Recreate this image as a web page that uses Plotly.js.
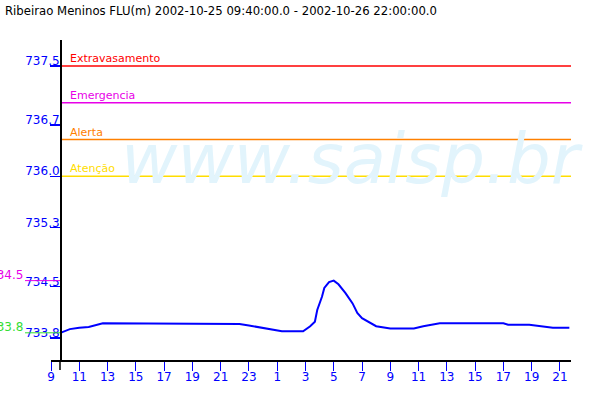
<!DOCTYPE html>
<html>
<head>
<meta charset="utf-8">
<script src="https://cdn.plot.ly/plotly-3.0.1.min.js"></script>
<style>html,body{margin:0;padding:0;background:#fff;}#chart{width:600px;height:400px;}</style>
</head>
<body>
<div id="chart"></div>
<script>
// ---- data ----
const chartTitle = "Ribeirao Meninos FLU(m) 2002-10-25 09:40:00.0 - 2002-10-26 22:00:00.0";
const times = [
  "2002-10-25 09:40","2002-10-25 10:00","2002-10-25 10:20","2002-10-25 11:00","2002-10-25 11:40",
  "2002-10-25 12:40","2002-10-25 14:40","2002-10-25 17:00","2002-10-25 17:40","2002-10-25 20:40",
  "2002-10-25 21:20","2002-10-25 22:20","2002-10-25 23:00","2002-10-26 00:00","2002-10-26 00:40",
  "2002-10-26 01:20","2002-10-26 02:50","2002-10-26 03:10","2002-10-26 03:20","2002-10-26 03:40",
  "2002-10-26 03:50","2002-10-26 04:10","2002-10-26 04:20","2002-10-26 04:40","2002-10-26 05:00",
  "2002-10-26 05:20","2002-10-26 05:50","2002-10-26 06:20","2002-10-26 06:40","2002-10-26 07:00",
  "2002-10-26 07:30","2002-10-26 08:00","2002-10-26 09:00","2002-10-26 10:40","2002-10-26 11:20",
  "2002-10-26 11:50","2002-10-26 12:30","2002-10-26 17:00","2002-10-26 17:20","2002-10-26 18:50",
  "2002-10-26 19:50","2002-10-26 20:30","2002-10-26 21:40"
];
const levels = [
  733.87,733.89,733.92,733.94,733.95,
  734.00,734.00,734.00,733.99,733.99,
  734.00,733.99,733.97,733.94,733.91,
  733.89,733.89,733.93,733.96,734.02,
  734.18,734.36,734.48,734.56,734.58,
  734.53,734.41,734.27,734.14,734.07,
  734.01,733.96,733.93,733.93,733.96,
  733.98,734.00,734.00,733.98,733.98,
  733.95,733.94,733.94
];
const thresholdNames = ["Extravasamento","Emergencia","Alerta","Atenção"];
const thresholdValues = [737.5, 737.0, 736.5, 736.0];
const thresholdColors = ["#FF0000","#E800E8","#FF8000","#FFDD00"];
const yTickValues = [733.8, 734.5, 735.3, 736.0, 736.7, 737.5];
const yTickLabels = ["733.8","734.5","735.3","736.0","736.7","737.5"];

// ---- layout constants ----
const xStart = "2002-10-25 09:00", xEnd = "2002-10-26 21:47";
const yMin = 733.5, yMax = 737.854;
const mL = 51, mR = 29, mT = 40, mB = 40;
const plotW = 600 - mL - mR, plotH = 400 - mT - mB;
const px2paperX = p => (p - mL) / plotW;
const v2paperY = v => (v - yMin) / (yMax - yMin);
const dataStart = times[0], dataEnd = xEnd;

const traces = [];
thresholdValues.forEach((v, i) => {
  traces.push({x: [dataStart, dataEnd], y: [v, v], mode: "lines", type: "scatter",
    line: {color: thresholdColors[i], width: 1.5}, hoverinfo: "skip", showlegend: false});
});
traces.push({x: times, y: levels, mode: "lines", type: "scatter",
  line: {color: "#0000FF", width: 2}, showlegend: false});

const vMax = Math.max(...levels), vMin = Math.min(...levels);
const trunc1 = v => (Math.floor(v * 10 + 1e-9) / 10).toFixed(1);

const annotations = [];
thresholdNames.forEach((n, i) => {
  annotations.push({text: n, xref: "paper", x: px2paperX(68), xanchor: "left",
    yref: "y", y: thresholdValues[i], yanchor: "bottom", yshift: -1, showarrow: false,
    font: {family: "DejaVu Sans", size: 11, color: thresholdColors[i]}});
});
annotations.push({text: trunc1(vMax), xref: "paper", x: px2paperX(25), xanchor: "right",
  yref: "y", y: vMax, yanchor: "bottom", yshift: -3, showarrow: false,
  font: {family: "DejaVu Sans", size: 12, color: "#E800E8"}});
annotations.push({text: trunc1(vMin), xref: "paper", x: px2paperX(25), xanchor: "right",
  yref: "y", y: vMin, yanchor: "bottom", yshift: -3, showarrow: false,
  font: {family: "DejaVu Sans", size: 12, color: "#33DD33"}});
annotations.push({text: "www.saisp.br", xref: "paper", x: px2paperX(352), xanchor: "center",
  yref: "paper", y: v2paperY(736.24), yanchor: "middle", showarrow: false,
  font: {family: "DejaVu Sans", size: 69, color: "#E2F4FC", style: "italic"}});

const shapes = [
  {type: "line", xref: "paper", yref: "paper", x0: px2paperX(25), x1: px2paperX(60),
   y0: v2paperY(vMax), y1: v2paperY(vMax), line: {color: "#E800E8", width: 1}},
  {type: "line", xref: "paper", yref: "paper", x0: px2paperX(25), x1: px2paperX(60),
   y0: v2paperY(vMin), y1: v2paperY(vMin), line: {color: "#33DD33", width: 1}},
  {type: "line", xref: "paper", yref: "paper", x0: px2paperX(60), x1: px2paperX(60),
   y0: 0, y1: -10 / plotH, line: {color: "#000000", width: 1.5}}
];

const layout = {
  width: 600, height: 400,
  margin: {l: mL, r: mR, t: mT, b: mB, pad: 0},
  paper_bgcolor: "#FFFFFF", plot_bgcolor: "#FFFFFF",
  title: {text: chartTitle, xref: "container", x: 5 / 600, xanchor: "left",
    yref: "container", y: 1 - 11 / 400, yanchor: "middle",
    font: {family: "DejaVu Sans", size: 11.7, color: "#000000"}},
  xaxis: {type: "date", range: [xStart, xEnd], tick0: xStart, dtick: 7200000,
    tickformat: "%-H", showgrid: false, zeroline: false, showline: true,
    linecolor: "#000000", linewidth: 1.5, ticks: "outside", ticklen: 9,
    tickcolor: "#0000FF", tickwidth: 1, ticklabelstandoff: -4,
    tickfont: {family: "DejaVu Sans", size: 12, color: "#0000FF"}},
  yaxis: {range: [yMin, yMax], tickmode: "array", tickvals: yTickValues, ticktext: yTickLabels,
    anchor: "free", position: px2paperX(60), showgrid: false, zeroline: false,
    showline: true, linecolor: "#000000", linewidth: 1.5,
    ticks: "outside", ticklen: 10, tickcolor: "#0000FF", tickwidth: 1.5,
    ticklabelposition: "outside top", ticklabelstandoff: -2, ticklabelshift: 4,
    tickfont: {family: "DejaVu Sans", size: 12, color: "#0000FF"}},
  annotations: annotations,
  shapes: shapes,
  showlegend: false
};

Plotly.newPlot("chart", traces, layout, {displayModeBar: false, staticPlot: true});
</script>
</body>
</html>
